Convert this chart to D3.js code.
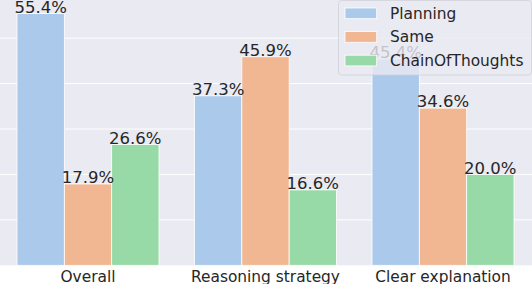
<!DOCTYPE html>
<html><head><meta charset="utf-8">
<script src="https://cdn.jsdelivr.net/npm/d3@7"></script>
<style>html,body{margin:0;padding:0;background:#fff;}svg{display:block;}</style>
</head><body>
<svg id="c" width="532" height="284"></svg>
<script>
const categories = ["Overall", "Reasoning strategy", "Clear explanation"];
const series = ["Planning", "Same", "ChainOfThoughts"];
const planning = [55.4, 37.3, 45.4];
const same = [17.9, 45.9, 34.6];
const chainOfThoughts = [26.6, 16.6, 20.0];
const yTicks = [0, 10, 20, 30, 40, 50];
const colors = ["#abc9ea", "#f0b792", "#98daa7"];

const values = [planning, same, chainOfThoughts];
const svg = d3.select("#c");
const W = 532, H = 284;
const axBottom = 265.3;
const font = "DejaVu Sans, sans-serif";
const textColor = "#262626";

const x = d3.scaleLinear().domain([-0.5, 2.5]).range([88 - 88.75, 443 + 88.75]);
const inner = d3.scaleBand().domain(series).range([-0.4, 0.4]);
const y = d3.scaleLinear().domain([0, 58.4]).range([axBottom, 0]);

// axes background
svg.append("rect").attr("x", 0).attr("y", 0).attr("width", W).attr("height", axBottom).attr("fill", "#eaeaf2");

// grid
svg.append("g").selectAll("line").data(yTicks.slice(1)).join("line")
  .attr("x1", 0).attr("x2", W)
  .attr("y1", d => y(d)).attr("y2", d => y(d))
  .attr("stroke", "#fff").attr("stroke-width", 1);

// bars
const bw = x(inner.bandwidth()) - x(0);
series.forEach((s, si) => {
  const g = svg.append("g");
  g.selectAll("rect").data(values[si]).join("rect")
    .attr("x", (d, i) => x(i + inner(s)))
    .attr("y", d => y(d))
    .attr("width", bw)
    .attr("height", d => y(0) - y(d))
    .attr("fill", colors[si])
    .attr("stroke", "#fff").attr("stroke-width", 0.8);
});

// value labels
series.forEach((s, si) => {
  svg.append("g").selectAll("text").data(values[si]).join("text")
    .attr("x", (d, i) => x(i + inner(s) + inner.bandwidth() / 2))
    .attr("y", d => y(d) - 0.8)
    .attr("text-anchor", "middle")
    .attr("font-family", font).attr("font-size", 16.5)
    .attr("fill", textColor)
    .text(d => d.toFixed(1) + "%");
});

// x tick labels
svg.append("g").selectAll("text").data(categories).join("text")
  .attr("x", (d, i) => x(i))
  .attr("y", 281.5)
  .attr("text-anchor", "middle")
  .attr("font-family", font).attr("font-size", 15.4)
  .attr("fill", textColor)
  .text(d => d);

// legend
const lg = svg.append("g");
lg.append("rect").attr("x", 338.5).attr("y", 0.5).attr("width", 193).attr("height", 74.5)
  .attr("rx", 3).attr("fill", "#eaeaf2").attr("fill-opacity", 0.8)
  .attr("stroke", "#d0d0d8").attr("stroke-width", 0.8);
series.forEach((s, si) => {
  const cy = 13.3 + si * 23.6;
  lg.append("rect").attr("x", 345).attr("y", cy - 5.3).attr("width", 31.7).attr("height", 10.7)
    .attr("fill", colors[si]).attr("stroke", "#fff").attr("stroke-width", 0.8);
  lg.append("text").attr("x", 390).attr("y", cy + 5.2)
    .attr("font-family", font).attr("font-size", 15.4).attr("fill", textColor)
    .text(s);
});
</script>
</body></html>
